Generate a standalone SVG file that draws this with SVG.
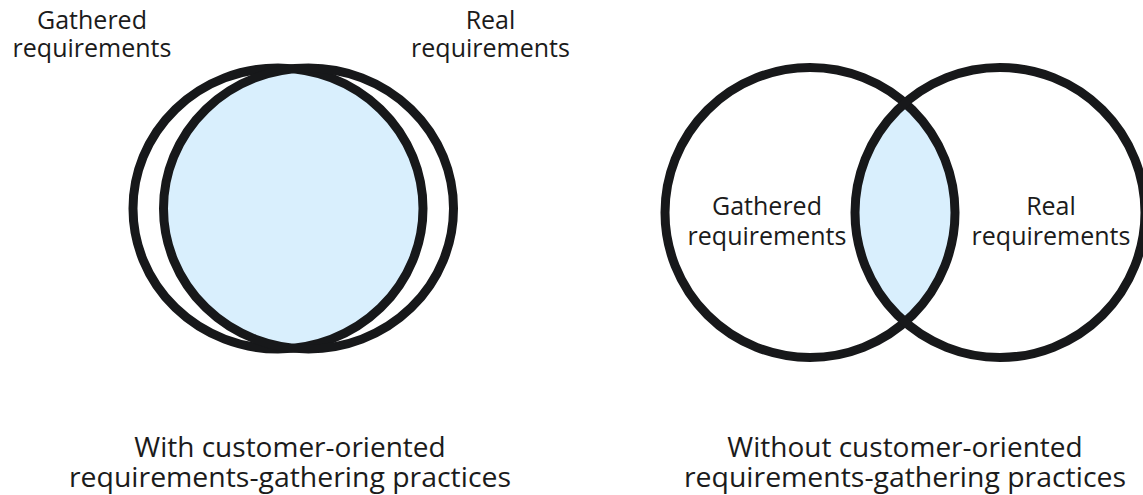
<svg xmlns="http://www.w3.org/2000/svg" width="1143" height="495" viewBox="0 0 1143 495">
  <style>
    .ring { fill: none; stroke: #17181a; stroke-width: 9; }
    .overlap { fill: #d9effd; stroke: none; }
    .lbl { font-family: "Open Sans", "Noto Sans", sans-serif; font-size: 25px; fill: #1b1b1b; text-anchor: middle; }
    .cap { font-family: "Open Sans", "Noto Sans", sans-serif; font-size: 28px; fill: #1b1b1b; text-anchor: middle; }
  </style>
  <defs>
    <clipPath id="clipA">
      <ellipse cx="278" cy="208.5" rx="145" ry="140.5"/>
    </clipPath>
    <clipPath id="clipC">
      <circle cx="810" cy="212.5" r="145"/>
    </clipPath>
  </defs>
  <rect width="1143" height="495" fill="#ffffff"/>

  <!-- Left diagram: with customer-oriented practices -->
  <g id="left-diagram">
    <ellipse class="overlap" cx="308.5" cy="208.5" rx="145" ry="140.5" clip-path="url(#clipA)"/>
    <g id="left-gathered">
      <ellipse class="ring" cx="278" cy="208.5" rx="145" ry="140.5"/>
      <text class="lbl" x="92" y="29">Gathered</text>
      <text class="lbl" x="92" y="57">requirements</text>
    </g>
    <g id="left-real">
      <ellipse class="ring" cx="308.5" cy="208.5" rx="145" ry="140.5"/>
      <text class="lbl" x="490.5" y="29">Real</text>
      <text class="lbl" x="490.5" y="57">requirements</text>
    </g>
    <g id="left-caption">
      <text class="cap" x="290" y="457">With customer-oriented</text>
      <text class="cap" x="290" y="487" textLength="442" lengthAdjust="spacingAndGlyphs">requirements-gathering practices</text>
    </g>
  </g>

  <!-- Right diagram: without customer-oriented practices -->
  <g id="right-diagram">
    <circle class="overlap" cx="1000" cy="212.5" r="145" clip-path="url(#clipC)"/>
    <g id="right-gathered">
      <circle class="ring" cx="810" cy="212.5" r="145"/>
      <text class="lbl" x="767" y="215">Gathered</text>
      <text class="lbl" x="767" y="245">requirements</text>
    </g>
    <g id="right-real">
      <circle class="ring" cx="1000" cy="212.5" r="145"/>
      <text class="lbl" x="1051" y="215">Real</text>
      <text class="lbl" x="1051" y="245">requirements</text>
    </g>
    <g id="right-caption">
      <text class="cap" x="905" y="457">Without customer-oriented</text>
      <text class="cap" x="905" y="487" textLength="442" lengthAdjust="spacingAndGlyphs">requirements-gathering practices</text>
    </g>
  </g>
</svg>
